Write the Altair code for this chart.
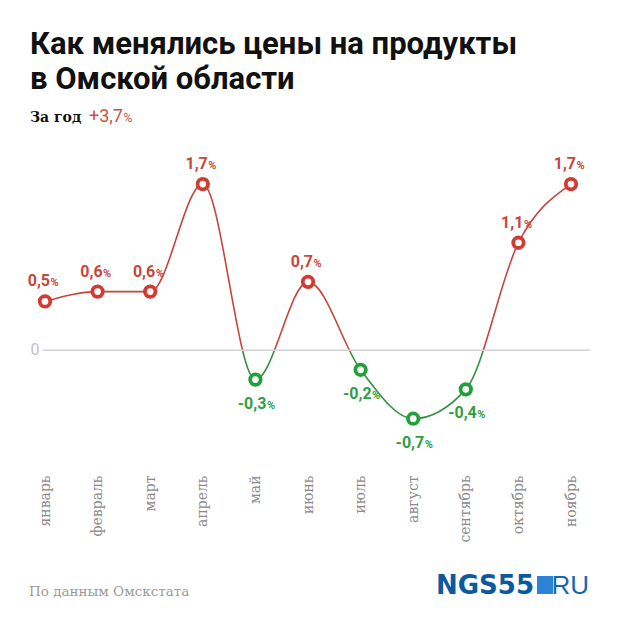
import altair as alt
import pandas as pd

months = ["январь", "февраль", "март", "апрель", "май", "июнь",
          "июль", "август", "сентябрь", "октябрь", "ноябрь"]
values = [0.5, 0.6, 0.6, 1.7, -0.3, 0.7, -0.2, -0.7, -0.4, 1.1, 1.7]
labels = ["0,5", "0,6", "0,6", "1,7", "-0,3", "0,7", "-0,2", "-0,7", "-0,4", "1,1", "1,7"]

title_lines = ["Как менялись цены на продукты", "в Омской области"]
subtitle_a = "За год"
subtitle_b = "+3,7"
source_text = "По данным Омскстата"

RED = "#d33b32"
RED_TXT = "#c8463c"
GREEN = "#22a03a"
GREEN_TXT = "#2f9e44"
RED_LINE = "#c4463c"
GREEN_LINE = "#35913f"

df = pd.DataFrame({
    "month": months,
    "value": values,
    "label": labels,
    "sign": ["pos" if v >= 0 else "neg" for v in values],
})

W, H = 558, 303
grid_vals = [round(-1.0 + 0.1 * i, 1) for i in range(32)]

x_enc = alt.X("month:N", sort=months,
              scale=alt.Scale(type="point", range=[13, 539], padding=0),
              axis=alt.Axis(title=None, labelAngle=-90, labelFont="DejaVu Serif",
                            labelFontSize=14, labelColor="#8a8a8a", labelPadding=27,
                            ticks=False, tickSize=0, domain=False, grid=False))
y_enc = alt.Y("value:Q", scale=alt.Scale(domain=[-1.0, 2.1], nice=False, zero=False),
              axis=alt.Axis(title=None, values=grid_vals, grid=True, gridColor="#eeeeee",
                            gridWidth=1, labels=False, ticks=False, domain=False))

base = alt.Chart(df)

zero_rule = alt.Chart(pd.DataFrame({"z": [0]})).mark_rule(
    color="#d2d2d2", strokeWidth=1.5).encode(
    y=alt.Y("z:Q", scale=alt.Scale(domain=[-1.0, 2.1], nice=False, zero=False), axis=None),
    x=alt.value(11), x2=alt.value(558))

zero_lbl = alt.Chart(pd.DataFrame({"z": [0], "t": ["0"]})).mark_text(
    font="Roboto", fontSize=16, color="#c2c2c2", align="center", baseline="middle").encode(
    y=alt.Y("z:Q", axis=None), x=alt.value(3), text="t:N")

grad = alt.LinearGradient(
    gradient="linear", x1=0, y1=0, x2=0, y2=1,
    stops=[alt.GradientStop(offset=0, color=RED_LINE),
           alt.GradientStop(offset=0.7083, color=RED_LINE),
           alt.GradientStop(offset=0.7083, color=GREEN_LINE),
           alt.GradientStop(offset=1, color=GREEN_LINE)])

line = base.mark_line(interpolate="monotone", strokeWidth=1.6, color=grad).encode(
    x=x_enc, y=y_enc)

points = base.mark_point(shape="circle", filled=True, fill="white", size=110,
                         strokeWidth=3.8, opacity=1).encode(
    x=x_enc, y=y_enc,
    stroke=alt.Stroke("sign:N", scale=alt.Scale(domain=["pos", "neg"], range=[RED, GREEN]),
                      legend=None))

pos = base.transform_filter(alt.datum.value >= 0)
neg = base.transform_filter(alt.datum.value < 0)

pos_num = pos.mark_text(font="Roboto", fontWeight="bold", fontSize=16, color=RED_TXT,
                        align="right", baseline="alphabetic", dx=5, dy=-15).encode(
    x=x_enc, y=y_enc, text="label:N")
pos_pct = pos.mark_text(font="Roboto", fontWeight="bold", fontSize=11, color=RED_TXT,
                        align="left", baseline="alphabetic", dx=5.5, dy=-15, text="%").encode(
    x=x_enc, y=y_enc)
neg_num = neg.mark_text(font="Roboto", fontWeight="bold", fontSize=16, color=GREEN_TXT,
                        align="right", baseline="alphabetic", dx=11, dy=29).encode(
    x=x_enc, y=y_enc, text="label:N")
neg_pct = neg.mark_text(font="Roboto", fontWeight="bold", fontSize=11, color=GREEN_TXT,
                        align="left", baseline="alphabetic", dx=11.5, dy=29, text="%").encode(
    x=x_enc, y=y_enc)


def txt(t, x, y, **kw):
    return alt.Chart(pd.DataFrame({"t": [t]})).mark_text(
        baseline="alphabetic", **kw).encode(text="t:N", x=alt.value(x), y=alt.value(y))


title1 = txt(title_lines[0], -2, -91, align="left", font="Roboto", fontWeight="bold",
             fontSize=31, color="#111111")
title2 = txt(title_lines[1], -2, -56, align="left", font="Roboto", fontWeight="bold",
             fontSize=31, color="#111111")
sub_a = txt(subtitle_a, -2, -23, align="left", font="DejaVu Serif", fontWeight="bold",
            fontSize=14, color="#111111")
sub_b = txt(subtitle_b, 57, -23, align="left", font="Roboto", fontSize=18, color="#c9524b")
sub_c = txt("%", 91.5, -23, align="left", font="Roboto", fontSize=12, color="#c9524b")
source = txt(source_text, -3, 451, align="left", font="DejaVu Serif", fontSize=13.5,
             color="#9a9a9a")
logo_a = txt("NGS55", 502, 449, align="right", font="DejaVu Sans", fontWeight="bold",
             fontSize=26, color="#0b5aa0")
logo_c = txt("RU", 557, 449, align="right", font="Liberation Sans", fontSize=26,
             color="#1668b5")
logo_sq = alt.Chart(pd.DataFrame({"a": [1]})).mark_rect(color="#2c82d4").encode(
    x=alt.value(505), x2=alt.value(521), y=alt.value(431), y2=alt.value(449))

chart = alt.layer(
    line, zero_rule, zero_lbl, points, pos_num, pos_pct, neg_num, neg_pct,
    title1, title2, sub_a, sub_b, sub_c, source, logo_a, logo_sq, logo_c
).resolve_scale(y="shared").properties(
    width=W, height=H,
    autosize=alt.AutoSizeParams(type="none"),
    padding={"left": 24, "top": 137, "right": 22, "bottom": 163},
    background="white",
).configure_view(stroke=None)

chart.save("out.html", embed_options={"renderer": "svg", "actions": False})
